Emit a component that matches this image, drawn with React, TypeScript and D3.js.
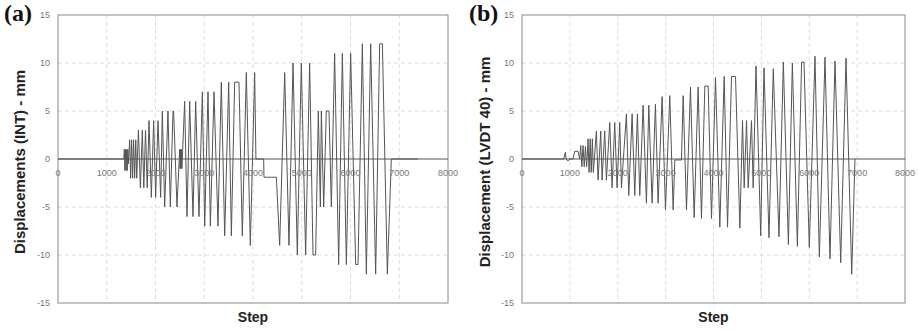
import * as d3 from 'd3';

// (a) INT displacement, breakpoints
const stepsA = [0, 1350, 1360, 1372, 1384, 1396, 1408, 1420, 1432, 1444,
  1470, 1490, 1510, 1530, 1550, 1572, 1595, 1615,
  1650, 1690, 1730, 1760, 1795, 1830,
  1867, 1915, 1962, 2003, 2051, 2106,
  2140, 2188, 2256, 2304, 2359, 2372, 2441,
  2496, 2505, 2514, 2523, 2532, 2541, 2550,
  2598, 2646, 2701, 2769, 2824, 2892,
  2961, 3009, 3077, 3125, 3200, 3282,
  3350, 3419, 3501, 3556, 3624, 3713, 3781,
  3863, 3945, 4034, 4060, 4219, 4225, 4479,
  4547, 4650, 4738, 4821, 4909, 4991, 5080, 5162, 5231, 5285,
  5340, 5382, 5402, 5450, 5504, 5559, 5607,
  5675, 5757, 5833, 5915, 6003, 6106, 6154,
  6243, 6325, 6414, 6516, 6598, 6654, 6756, 6838, 7385];
const valuesA = [0, 0, 1, -1.2, 1, -1.2, 1, -1.2, 1, -0.5,
  2, -2, 2, -2, 2, -2, 2, -2,
  3, -3, 3, -3, 3, -3,
  4, -4, 4, -4, 4, -4,
  5, -5, 5, -5, 5, 5, -5,
  1, -1, 1, -1, 1, -1, 0,
  6, -6, 6, -6, 6, -6,
  7, -7, 7, -7, 7, -7,
  8, -8, 8, -8, 8, 8, -8,
  9, -9, 9, 0, 0, -1.9, -1.9,
  -9, 9, -9, 10, -10, 10, -10, 10, -10, -10,
  5, -5, 5, -5, 5, 5, -5,
  11, -11, 11, -11, 11, -11, -11,
  12, -12, 12, -12, 12, 12, -12, 0, 0];

// (b) LVDT 40 displacement
const stepsB = [0, 870, 906, 920, 962, 1000, 1066, 1101, 1171, 1206,
  1226, 1250, 1275, 1300, 1325, 1350,
  1380, 1400, 1425, 1445, 1470, 1490,
  1554, 1589, 1645, 1672, 1728, 1763,
  1833, 1882, 1937, 1986, 2042, 2077,
  2181, 2230, 2300, 2355, 2411, 2460,
  2530, 2599, 2648, 2718, 2787, 2843,
  2927, 2997, 3087, 3157, 3192, 3331,
  3366, 3436, 3519, 3596, 3679, 3749, 3819, 3889, 3958,
  4042, 4132, 4223, 4293, 4376, 4460, 4551,
  4606, 4641, 4690, 4725, 4794, 4829,
  4888, 4986, 5055, 5159, 5249, 5368, 5459, 5564, 5647, 5752,
  5840, 5890, 6001, 6120, 6211, 6329, 6433, 6538, 6657, 6768, 6887, 6955];
const valuesB = [0, 0, 0.7, 0, -0.2, 0, 0, 0.8, 0.8, 0,
  1.4, -0.8, 1.4, -0.8, 1.3, -0.8,
  2.1, -1.4, 2.1, -1.4, 2.1, -1.4,
  2.9, -2.2, 2.9, -2.2, 2.9, -2.2,
  3.8, -3, 3.8, -3, 3.8, -3,
  4.7, -3.8, 4.7, -3.8, 4.7, -3.8,
  5.6, -4.6, 5.6, -4.6, 5.7, -4.6,
  6.5, -5.3, 6.6, -5.3, -0.1, -0.1,
  6.6, -5.3, 7.5, -6.1, 7.5, -6.2, 7.6, 7.6, -6.2,
  8.5, -7.1, 8.6, -7.1, 8.6, 8.6, -7.2,
  4, -3, 4, -3, 4, -3,
  9.7, -8, 9.5, -8.2, 9.4, -8.1, 10.1, -8.9, 10, -9.1,
  10.1, 10.1, -9.2, 10.7, -10.2, 10.6, -10.4, 10.2, -10.8, 10.5, -12, 0];

const xTicks = [0, 1000, 2000, 3000, 4000, 5000, 6000, 7000, 8000];
const yTicks = [-15, -10, -5, 0, 5, 10, 15];

type PanelProps = {
  tag: string;
  ylabel: string;
  steps: number[];
  values: number[];
  left: number;
  right: number;
  tagX: number;
  labelX: number;
};

const sans = 'Liberation Sans, Arial, sans-serif';

function Panel({ tag, ylabel, steps, values, left, right, tagX, labelX }: PanelProps) {
  const top = 15;
  const bottom = 303;
  const x = d3.scaleLinear().domain([0, 8000]).range([left, right]);
  const y = d3.scaleLinear().domain([-15, 15]).range([bottom, top]);
  const pts: [number, number][] = steps.map((s, i) => [s, values[i]]);
  const line = d3.line<[number, number]>()
    .x(d => x(d[0]))
    .y(d => y(d[1]));
  const y0 = y(0);
  const cx = (left + right) / 2;

  return (
    <g>
      <rect x={left} y={top} width={right - left} height={bottom - top} fill="#fff" />
      {/* grid */}
      {xTicks.slice(1, -1).map(t => (
        <line key={'gx' + t} x1={x(t)} x2={x(t)} y1={top} y2={bottom}
          stroke="#d4d4d4" strokeWidth={0.8} strokeDasharray="4,3" />
      ))}
      {yTicks.slice(1, -1).filter(t => t !== 0).map(t => (
        <line key={'gy' + t} x1={left} x2={right} y1={y(t)} y2={y(t)}
          stroke="#d4d4d4" strokeWidth={0.8} strokeDasharray="4,3" />
      ))}
      <rect x={left} y={top} width={right - left} height={bottom - top}
        fill="none" stroke="#8a8a8a" strokeWidth={1} />
      <line x1={left} x2={right} y1={y0} y2={y0} stroke="#555" strokeWidth={1} />
      <path d={line(pts) || ''} fill="none" stroke="#555" strokeWidth={1} />
      {/* ticks */}
      {yTicks.map(t => (
        <text key={'ty' + t} x={left - 8} y={y(t)} dy="0.35em" textAnchor="end"
          fontSize={9} fill="#777" fontFamily={sans}>{t}</text>
      ))}
      {xTicks.map(t => (
        <text key={'tx' + t} x={x(t)} y={y0 + 17} textAnchor="middle"
          fontSize={9} fill="#777" fontFamily={sans}>{t}</text>
      ))}
      <text x={cx} y={322} textAnchor="middle" fontSize={14} fontWeight="bold"
        fill="#222" fontFamily={sans}>Step</text>
      <text transform={`translate(${labelX},${162}) rotate(-90)`} textAnchor="middle"
        fontSize={15} fontWeight="bold" fill="#222" fontFamily={sans}>{ylabel}</text>
      <text x={tagX} y={21} fontSize={24} fontWeight="bold" fill="#111"
        fontFamily="Liberation Serif, Times New Roman, serif">{tag}</text>
    </g>
  );
}

export default function App() {
  return (
    <svg width={918} height={331} style={{ position: 'absolute', left: 0, top: 0, background: '#fff' }}>
      <rect width={918} height={331} fill="#fff" />
      <Panel tag="(a)" ylabel="Displacements (INT) - mm" steps={stepsA} values={valuesA}
        left={58} right={448} tagX={4} labelX={25} />
      <Panel tag="(b)" ylabel="Displacement (LVDT 40) - mm" steps={stepsB} values={valuesB}
        left={522} right={905} tagX={469} labelX={490} />
    </svg>
  );
}
